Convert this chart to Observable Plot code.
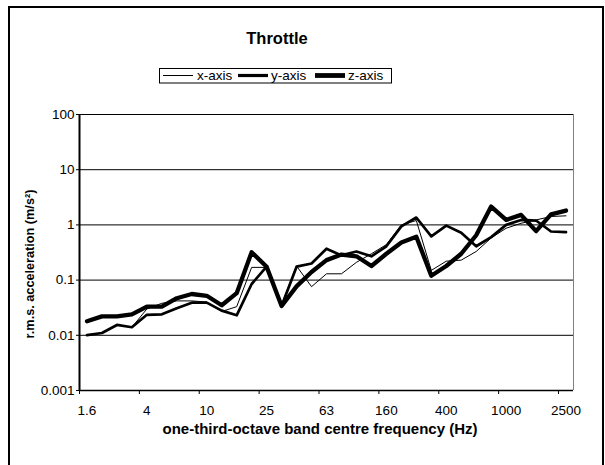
<!DOCTYPE html>
<html><head><meta charset="utf-8">
<script src="https://cdn.jsdelivr.net/npm/d3@7"></script>
<script src="https://cdn.jsdelivr.net/npm/@observablehq/plot@0.6"></script>
<style>
html,body{margin:0;padding:0;background:#fff;}
body{width:605px;height:465px;position:relative;overflow:hidden;font-family:"Liberation Sans",Arial,sans-serif;color:#000;}
#chart{position:absolute;left:0;top:0;}
#frame{position:absolute;left:8px;top:6px;width:596px;height:480px;border:2px solid #000;box-sizing:border-box;}
.t{position:absolute;white-space:nowrap;line-height:1;}
#title{left:177px;width:200px;top:30px;text-align:center;font-weight:bold;font-size:16.5px;}
#ylabel{left:30px;top:263.5px;font-weight:bold;font-size:12.7px;transform:translate(-50%,-50%) rotate(-90deg);}
#xlabel{left:120px;width:400px;top:421px;text-align:center;font-weight:bold;font-size:15px;}
#legend{position:absolute;left:159px;top:68px;}
</style></head><body>
<div id="chart"></div>
<div id="frame"></div>
<div class="t" id="title">Throttle</div>
<svg id="legend" width="233" height="16"></svg>
<div class="t" id="ylabel">r.m.s. acceleration (m/s²)</div>
<div class="t" id="xlabel">one-third-octave band centre frequency (Hz)</div>
<script>
// one-third-octave band centre frequencies (Hz)
const bands = ["1.6","2","2.5","3.15","4","5","6.3","8","10","12.5","16","20","25","31.5","40","50","63","80","100","125","160","200","250","315","400","500","630","800","1000","1250","1600","2000","2500"];
const tickLabels = ["1.6","4","10","25","63","160","400","1000","2500"];
const yTicks = [0.001, 0.01, 0.1, 1, 10, 100];
const seriesNames = ["x-axis", "y-axis", "z-axis"];

// r.m.s. acceleration (m/s²)
const xAxisVals = [0.0101,0.011,0.0154,0.014,0.030,0.038,0.042,0.042,0.040,0.027,0.033,0.17,0.17,0.036,0.18,0.076,0.13,0.13,0.21,0.30,0.44,1.0,1.2,0.15,0.22,0.23,0.33,0.58,0.87,1.07,1.23,1.42,1.46];
const yAxisVals = [0.0101,0.011,0.0154,0.014,0.0235,0.024,0.031,0.039,0.039,0.028,0.023,0.085,0.175,0.034,0.175,0.20,0.37,0.28,0.33,0.27,0.41,0.94,1.36,0.62,0.97,0.72,0.41,0.60,1.0,1.23,1.2,0.76,0.74];
const zAxisVals = [0.018,0.022,0.022,0.024,0.033,0.033,0.047,0.056,0.052,0.035,0.058,0.32,0.175,0.034,0.077,0.14,0.23,0.29,0.27,0.18,0.30,0.48,0.61,0.12,0.18,0.30,0.65,2.15,1.23,1.52,0.77,1.55,1.82];

const widths = [1, 2.7, 4.3];
const rows = (vals) => vals.map((v, i) => ({k: i + 0.5, v}));
const tickPos = tickLabels.map(l => bands.indexOf(l) + 0.5);
const boundaries = tickLabels.map(l => bands.indexOf(l));

const plot = Plot.plot({
  width: 605, height: 465,
  marginLeft: 79, marginRight: 32, marginTop: 114, marginBottom: 75,
  style: {fontFamily: "'Liberation Sans', Arial, sans-serif", fontSize: "13.5px", background: "transparent", color: "#000"},
  x: {type: "linear", domain: [0, bands.length]},
  y: {type: "log", domain: [0.001, 100]},
  marks: [
    Plot.gridY(yTicks, {stroke: "#000", strokeOpacity: 1}),
    Plot.ruleX([bands.length], {stroke: "#808080"}),
    Plot.ruleY([0.001], {stroke: "#000", strokeWidth: 1.5}),
    Plot.ruleX([0], {stroke: "#000", strokeWidth: 2}),
    Plot.axisY(yTicks, {tickSize: 3, tickPadding: 2, tickFormat: d => String(d), label: null}),
    Plot.axisX(boundaries, {tickSize: 4, tickFormat: () => "", label: null}),
    Plot.axisX(tickPos, {tickSize: 0, tickPadding: 15.4, tickFormat: d => bands[Math.floor(d)], label: null}),
    Plot.line(rows(xAxisVals), {x: "k", y: "v", stroke: "#000", strokeWidth: widths[0]}),
    Plot.line(rows(yAxisVals), {x: "k", y: "v", stroke: "#000", strokeWidth: widths[1]}),
    Plot.line(rows(zAxisVals), {x: "k", y: "v", stroke: "#000", strokeWidth: widths[2]})
  ]
});
document.getElementById("chart").append(plot);

// legend
const lg = d3.select("#legend");
lg.append("rect").attr("x", 0.5).attr("y", 0.5).attr("width", 232).attr("height", 14.5).attr("fill", "#fff").attr("stroke", "#000");
const lineX = [4, 79, 156];
const textX = [38, 112, 189];
seriesNames.forEach((name, j) => {
  lg.append("line").attr("x1", lineX[j]).attr("x2", lineX[j] + 30).attr("y1", 7.5).attr("y2", 7.5)
    .attr("stroke", "#000").attr("stroke-width", widths[j] + (j ? 0.5 : 0));
  lg.append("text").attr("x", textX[j]).attr("y", 12).text(name)
    .attr("font-family", "'Liberation Sans', Arial, sans-serif").attr("font-size", 13.5);
});
</script>
</body></html>
